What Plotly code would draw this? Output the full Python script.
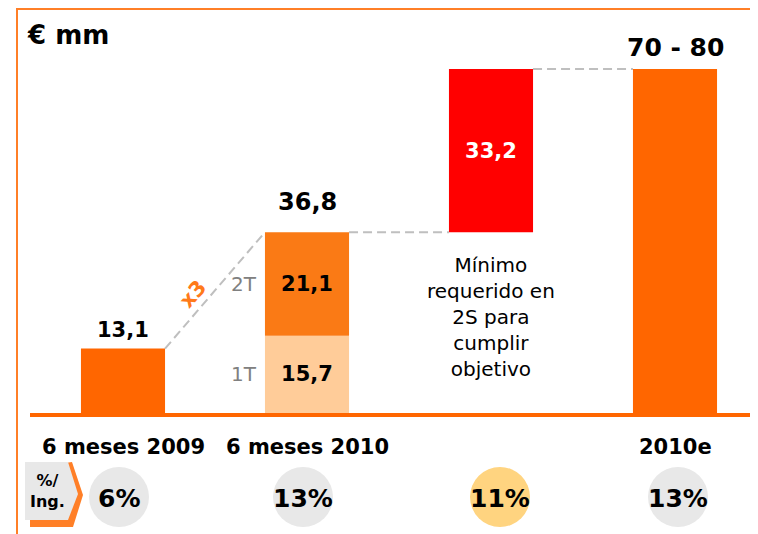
import plotly.graph_objects as go

# ---- data ----
categories = ["6 meses 2009", "6 meses 2010", "", "2010e"]
v_2009 = 13.1
v_1t = 15.7
v_2t = 21.1
v_gap = 33.2
v_target = 70
target_label = "70 - 80"
pct_labels = ["6%", "13%", "11%", "13%"]
pct_colors = ["#E8E8E8", "#E8E8E8", "#FFD480", "#E8E8E8"]
note_text = "Mínimo<br>requerido en<br>2S para<br>cumplir<br>objetivo"

W, H = 758, 534
OFF = 8  # page body margin
FONT = "DejaVu Sans"
ORANGE = "#FF6600"
bw = 0.457
circle_shift = [-4, -4, 9, 3]  # pixel offsets of circles from bar centres

def px(x):
    return (x - OFF) / W

def py(y):
    return 1 - (y - OFF) / H

fig = go.Figure()
total_2010 = v_1t + v_2t

fig.add_bar(x=[0], y=[v_2009], width=bw, marker=dict(color=ORANGE, line=dict(width=0)))
fig.add_bar(x=[1], y=[v_1t], width=bw, marker=dict(color="#FFCC99", line=dict(width=0)),
            text=["<b>15,7</b>"], textposition="inside", insidetextanchor="middle",
            textfont=dict(family=FONT, size=21, color="black"))
fig.add_bar(x=[1], y=[v_2t], base=[v_1t], width=bw, marker=dict(color="#FA7A15", line=dict(width=0)),
            text=["<b>21,1</b>"], textposition="inside", insidetextanchor="middle",
            textfont=dict(family=FONT, size=21, color="black"))
fig.add_bar(x=[2], y=[v_gap], base=[total_2010], width=bw, marker=dict(color="#FF0000", line=dict(width=0)),
            text=["<b>33,2</b>"], textposition="inside", insidetextanchor="middle",
            textfont=dict(family=FONT, size=22, color="white"))
fig.add_bar(x=[3], y=[v_target], width=bw, marker=dict(color=ORANGE, line=dict(width=0)))

ann = []
# value labels above bars
for x, ypix, t, s in [(0, 330, "13,1", 21), (1, 202, "36,8", 24), (3, 48, target_label, 25)]:
    ann.append(dict(x=x, y=py(ypix), yref="paper", text=f"<b>{t}</b>", showarrow=False,
                    xanchor="center", yanchor="middle",
                    font=dict(family=FONT, size=s, color="black")))
# quarter tags
ann.append(dict(x=1 - bw / 2, y=v_1t + v_2t / 2, text="2T", showarrow=False, xanchor="right", xshift=-6,
                font=dict(family=FONT, size=20, color="#808080")))
ann.append(dict(x=1 - bw / 2, y=v_1t / 2, text="1T", showarrow=False, xanchor="right", xshift=-6,
                font=dict(family=FONT, size=20, color="#808080")))
# x3
ann.append(dict(x=px(193), y=py(294), xref="paper", yref="paper", text="<b>x3</b>", showarrow=False,
                xanchor="center", yanchor="middle",
                textangle=-49, font=dict(family=FONT, size=21, color="#FF7A1A")))
# note
ann.append(dict(x=2, y=py(317), yref="paper", text=note_text, showarrow=False,
                xanchor="center", yanchor="middle",
                font=dict(family=FONT, size=20, color="black")))
# title
ann.append(dict(x=px(25), y=py(35), xref="paper", yref="paper", text="<b>€ mm</b>", showarrow=False,
                xanchor="left", yanchor="middle", font=dict(family=FONT, size=26, color="black")))
# category labels
for i, c in enumerate(categories):
    if c:
        ann.append(dict(x=i, y=py(447), yref="paper", text=f"<b>{c}</b>", showarrow=False,
                        xanchor="center", yanchor="middle",
                        font=dict(family=FONT, size=21, color="black")))
# percentage labels
for i, t in enumerate(pct_labels):
    ann.append(dict(x=i, y=py(498), yref="paper", text=f"<b>{t}</b>", showarrow=False,
                    xanchor="center", yanchor="middle", xshift=circle_shift[i],
                    font=dict(family=FONT, size=25, color="black")))
# %/Ing. box text
ann.append(dict(x=px(47), y=py(491), xref="paper", yref="paper", text="<b>%/<br>Ing.</b>", showarrow=False,
                xanchor="center", yanchor="middle", font=dict(family=FONT, size=16, color="black")))

shapes = []
dash = dict(color="#BFBFBF", width=2, dash="9px,5px")
shapes.append(dict(type="line", x0=0 + bw / 2, y0=v_2009, x1=1 - bw / 2, y1=total_2010, line=dash, layer="below"))
shapes.append(dict(type="line", x0=1 + bw / 2, y0=total_2010, x1=2 - bw / 2, y1=total_2010, line=dash, layer="below"))
shapes.append(dict(type="line", x0=2 + bw / 2, y0=v_target, x1=3 - bw / 2, y1=v_target, line=dash, layer="below"))
# baseline
shapes.append(dict(type="line", xref="paper", yref="paper", x0=px(30), x1=1, y0=py(415), y1=py(415),
                   line=dict(color=ORANGE, width=4)))
# frame
shapes.append(dict(type="line", xref="paper", yref="paper", x0=px(17), x1=1, y0=py(9), y1=py(9),
                   line=dict(color="#FF7F27", width=2)))
shapes.append(dict(type="line", xref="paper", yref="paper", x0=px(17), x1=px(17), y0=py(8), y1=0,
                   line=dict(color="#FF7F27", width=2)))
# circles
for i, col in enumerate(pct_colors):
    s = circle_shift[i]
    shapes.append(dict(type="circle", xref="x", yref="paper", xsizemode="pixel", ysizemode="pixel",
                       xanchor=i, yanchor=py(497), x0=-30 + s, x1=30 + s, y0=-30, y1=30,
                       fillcolor=col, line=dict(width=0), layer="below"))

def path(pts):
    return "M " + " L ".join(f"{px(a)},{py(b)}" for a, b in pts) + " Z"

shapes.append(dict(type="path", xref="paper", yref="paper",
                   path=path([(30, 468), (72, 462), (83, 495), (73, 527), (30, 527)]),
                   fillcolor="#FF7F27", line=dict(width=0)))
shapes.append(dict(type="path", xref="paper", yref="paper",
                   path=path([(25, 462), (68, 462), (78, 494), (68, 520), (25, 520)]),
                   fillcolor="#E8E8E8", line=dict(width=0)))

x0_px, unit_x = 123 - OFF, 184
y0_px, unit_y = 413 - OFF, 344 / 70
fig.update_layout(
    width=W, height=H, margin=dict(l=0, r=0, t=0, b=0),
    paper_bgcolor="white", plot_bgcolor="white",
    barmode="overlay", showlegend=False,
    xaxis=dict(range=[-x0_px / unit_x, (W - x0_px) / unit_x], visible=False, fixedrange=True),
    yaxis=dict(range=[(y0_px - H) / unit_y, y0_px / unit_y], visible=False, fixedrange=True),
    annotations=ann, shapes=shapes,
    uniformtext=dict(mode="show", minsize=8),
)
fig.write_html("out.html")
